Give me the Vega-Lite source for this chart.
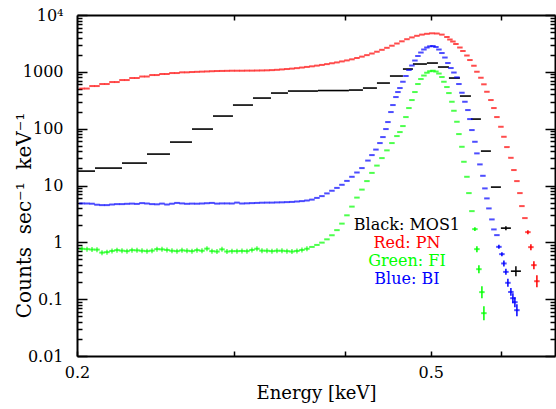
{
"$schema": "https://vega.github.io/schema/vega-lite/v6.json",
"autosize": {"type": "none"},
"padding": {"left": 77, "top": 15, "right": 1, "bottom": 53},
"width": 478,
"height": 341,
"background": "white",
"config": {"view": {"stroke": null}, "font": "DejaVu Serif"},
"datasets": {
"bins": [
{"s":"MOS1","elo":0.2,"ehi":0.20955,"c":17.92},
{"s":"MOS1","elo":0.20955,"ehi":0.22472,"c":20.25},
{"s":"MOS1","elo":0.22472,"ehi":0.23976,"c":24.8},
{"s":"MOS1","elo":0.23976,"ehi":0.25447,"c":35.71},
{"s":"MOS1","elo":0.25447,"ehi":0.2694,"c":58.07},
{"s":"MOS1","elo":0.2694,"ehi":0.28446,"c":98.4},
{"s":"MOS1","elo":0.28446,"ehi":0.29957,"c":166.7},
{"s":"MOS1","elo":0.29957,"ehi":0.31551,"c":260.3},
{"s":"MOS1","elo":0.31551,"ehi":0.33057,"c":345.6},
{"s":"MOS1","elo":0.33057,"ehi":0.34544,"c":423.4},
{"s":"MOS1","elo":0.34544,"ehi":0.37336,"c":459.1},
{"s":"MOS1","elo":0.37336,"ehi":0.40457,"c":468.5},
{"s":"MOS1","elo":0.40457,"ehi":0.41952,"c":478.1},
{"s":"MOS1","elo":0.41952,"ehi":0.43501,"c":518.5},
{"s":"MOS1","elo":0.43501,"ehi":0.4499,"c":634.9},
{"s":"MOS1","elo":0.4499,"ehi":0.4653,"c":843.8},
{"s":"MOS1","elo":0.4653,"ehi":0.47752,"c":1120},
{"s":"MOS1","elo":0.47752,"ehi":0.49515,"c":1372},
{"s":"MOS1","elo":0.49515,"ehi":0.50947,"c":1428},
{"s":"MOS1","elo":0.50947,"ehi":0.52419,"c":1215},
{"s":"MOS1","elo":0.52419,"ehi":0.53933,"c":777.6},
{"s":"MOS1","elo":0.53933,"ehi":0.55493,"c":374.9},
{"s":"MOS1","elo":0.55493,"ehi":0.56949,"c":147.5},
{"s":"MOS1","elo":0.56949,"ehi":0.58443,"c":40.32},
{"s":"MOS1","elo":0.58443,"ehi":0.59977,"c":9.37},
{"s":"MOS1","elo":0.59977,"ehi":0.6155,"c":1.778},
{"s":"MOS1","elo":0.6155,"ehi":0.63166,"c":0.311}
],
"pts": [
{"s":"PN","e":0.20261,"c":508},{"s":"PN","e":0.20525,"c":508},{"s":"PN","e":0.20793,"c":562},{"s":"PN","e":0.21063,"c":562},
{"s":"PN","e":0.21338,"c":610},{"s":"PN","e":0.21616,"c":610},{"s":"PN","e":0.21898,"c":661},{"s":"PN","e":0.22183,"c":661},
{"s":"PN","e":0.22472,"c":717},{"s":"PN","e":0.22765,"c":717},{"s":"PN","e":0.23062,"c":778},{"s":"PN","e":0.23363,"c":778},
{"s":"PN","e":0.23668,"c":827},{"s":"PN","e":0.23976,"c":827},{"s":"PN","e":0.24289,"c":878},{"s":"PN","e":0.24605,"c":878},
{"s":"PN","e":0.24926,"c":915},{"s":"PN","e":0.2525,"c":915},{"s":"PN","e":0.25579,"c":952},{"s":"PN","e":0.25913,"c":952},
{"s":"PN","e":0.26251,"c":980},{"s":"PN","e":0.26593,"c":980},{"s":"PN","e":0.2694,"c":992},{"s":"PN","e":0.27291,"c":1000},
{"s":"PN","e":0.27647,"c":1008},{"s":"PN","e":0.28007,"c":1016},{"s":"PN","e":0.28372,"c":1025},{"s":"PN","e":0.28742,"c":1033},
{"s":"PN","e":0.29117,"c":1037},{"s":"PN","e":0.29496,"c":1041},{"s":"PN","e":0.2988,"c":1046},{"s":"PN","e":0.3027,"c":1046},
{"s":"PN","e":0.30665,"c":1046},{"s":"PN","e":0.31064,"c":1050},{"s":"PN","e":0.31469,"c":1050},{"s":"PN","e":0.31879,"c":1054},
{"s":"PN","e":0.32295,"c":1058},{"s":"PN","e":0.32716,"c":1063},{"s":"PN","e":0.33142,"c":1072},{"s":"PN","e":0.33574,"c":1085},
{"s":"PN","e":0.34012,"c":1102},{"s":"PN","e":0.34455,"c":1120},{"s":"PN","e":0.34904,"c":1139},{"s":"PN","e":0.35359,"c":1162},
{"s":"PN","e":0.3582,"c":1190},{"s":"PN","e":0.36287,"c":1220},{"s":"PN","e":0.3676,"c":1250},{"s":"PN","e":0.37239,"c":1286},
{"s":"PN","e":0.37724,"c":1323},{"s":"PN","e":0.38216,"c":1367},{"s":"PN","e":0.38714,"c":1412},{"s":"PN","e":0.39219,"c":1464},
{"s":"PN","e":0.3973,"c":1525},{"s":"PN","e":0.40248,"c":1588},{"s":"PN","e":0.40773,"c":1660},{"s":"PN","e":0.41305,"c":1750},
{"s":"PN","e":0.41843,"c":1852},{"s":"PN","e":0.42388,"c":1968},{"s":"PN","e":0.42941,"c":2100},{"s":"PN","e":0.43501,"c":2259},
{"s":"PN","e":0.44068,"c":2440},{"s":"PN","e":0.44642,"c":2646},{"s":"PN","e":0.45224,"c":2881},{"s":"PN","e":0.45813,"c":3150},
{"s":"PN","e":0.4641,"c":3443},{"s":"PN","e":0.47016,"c":3750},{"s":"PN","e":0.47629,"c":4034},{"s":"PN","e":0.48249,"c":4303},
{"s":"PN","e":0.48878,"c":4517},{"s":"PN","e":0.49515,"c":4666},{"s":"PN","e":0.50161,"c":4762},{"s":"PN","e":0.50815,"c":4723},
{"s":"PN","e":0.51477,"c":4517},{"s":"PN","e":0.52148,"c":4100},{"s":"PN","e":0.52555,"c":3704},{"s":"PN","e":0.52965,"c":3415},
{"s":"PN","e":0.53378,"c":3087},{"s":"PN","e":0.53933,"c":2678},{"s":"PN","e":0.54355,"c":2324},{"s":"PN","e":0.54921,"c":1937},
{"s":"PN","e":0.55349,"c":1613},{"s":"PN","e":0.55926,"c":1280},{"s":"PN","e":0.56362,"c":1004},{"s":"PN","e":0.56949,"c":787},
{"s":"PN","e":0.57393,"c":603},{"s":"PN","e":0.57841,"c":446},{"s":"PN","e":0.58443,"c":319},{"s":"PN","e":0.58899,"c":230.5},
{"s":"PN","e":0.59359,"c":160},{"s":"PN","e":0.59977,"c":108},{"s":"PN","e":0.60445,"c":72},{"s":"PN","e":0.60916,"c":47.4},
{"s":"PN","e":0.6155,"c":30.7},{"s":"PN","e":0.6203,"c":18.7},{"s":"PN","e":0.62515,"c":11.95},{"s":"PN","e":0.63003,"c":7.35},
{"s":"PN","e":0.6333,"c":4.34},{"s":"PN","e":0.63824,"c":2.67},{"s":"PN","e":0.64321,"c":1.512},{"s":"PN","e":0.64823,"c":0.823},
{"s":"PN","e":0.65329,"c":0.397},{"s":"PN","e":0.65838,"c":0.207},
{"s":"BI","e":0.20261,"c":4.84},{"s":"BI","e":0.20525,"c":4.82},{"s":"BI","e":0.20793,"c":4.781},{"s":"BI","e":0.21063,"c":4.591},
{"s":"BI","e":0.21338,"c":4.517},{"s":"BI","e":0.21616,"c":4.517},{"s":"BI","e":0.21898,"c":4.628},{"s":"BI","e":0.22183,"c":4.704},
{"s":"BI","e":0.22472,"c":4.704},{"s":"BI","e":0.22765,"c":4.762},{"s":"BI","e":0.23062,"c":4.801},{"s":"BI","e":0.23363,"c":4.743},
{"s":"BI","e":0.23668,"c":4.898},{"s":"BI","e":0.23976,"c":4.82},{"s":"BI","e":0.24289,"c":4.704},{"s":"BI","e":0.24605,"c":4.666},
{"s":"BI","e":0.24926,"c":4.801},{"s":"BI","e":0.2525,"c":4.628},{"s":"BI","e":0.25579,"c":4.781},{"s":"BI","e":0.25913,"c":4.938},
{"s":"BI","e":0.26251,"c":4.84},{"s":"BI","e":0.26593,"c":4.762},{"s":"BI","e":0.2694,"c":4.801},{"s":"BI","e":0.27291,"c":4.781},
{"s":"BI","e":0.27647,"c":4.82},{"s":"BI","e":0.28007,"c":4.878},{"s":"BI","e":0.28372,"c":4.938},{"s":"BI","e":0.28742,"c":4.801},
{"s":"BI","e":0.29117,"c":4.84},{"s":"BI","e":0.29496,"c":4.84},{"s":"BI","e":0.2988,"c":4.82},{"s":"BI","e":0.3027,"c":4.998},
{"s":"BI","e":0.30665,"c":4.82},{"s":"BI","e":0.31064,"c":4.859},{"s":"BI","e":0.31469,"c":4.898},{"s":"BI","e":0.31879,"c":4.938},
{"s":"BI","e":0.32295,"c":4.978},{"s":"BI","e":0.32716,"c":4.998},{"s":"BI","e":0.33142,"c":4.998},{"s":"BI","e":0.33574,"c":5.039},
{"s":"BI","e":0.34012,"c":5.06},{"s":"BI","e":0.34455,"c":5.101},{"s":"BI","e":0.34904,"c":5.142},{"s":"BI","e":0.35359,"c":5.227},
{"s":"BI","e":0.3582,"c":5.312},{"s":"BI","e":0.36287,"c":5.443},{"s":"BI","e":0.3676,"c":5.645},{"s":"BI","e":0.37239,"c":6.048},
{"s":"BI","e":0.37724,"c":6.506},{"s":"BI","e":0.38216,"c":7.258},{"s":"BI","e":0.38714,"c":8.097},{"s":"BI","e":0.39219,"c":9.072},
{"s":"BI","e":0.3973,"c":10.29},{"s":"BI","e":0.40248,"c":12.05},{"s":"BI","e":0.40773,"c":14.23},{"s":"BI","e":0.41305,"c":16.93},
{"s":"BI","e":0.41843,"c":20.25},{"s":"BI","e":0.42498,"c":27.44},{"s":"BI","e":0.42941,"c":34.29},{"s":"BI","e":0.43388,"c":42.85},
{"s":"BI","e":0.4384,"c":55.79},{"s":"BI","e":0.44182,"c":71.13},{"s":"BI","e":0.44527,"c":98.4},{"s":"BI","e":0.44758,"c":130.7},
{"s":"BI","e":0.45107,"c":196},{"s":"BI","e":0.45341,"c":260.3},{"s":"BI","e":0.45695,"c":359.9},{"s":"BI","e":0.45932,"c":440.9},
{"s":"BI","e":0.4617,"c":518.5},{"s":"BI","e":0.4653,"c":669.2},{"s":"BI","e":0.46893,"c":843.8},{"s":"BI","e":0.4726,"c":1076},
{"s":"BI","e":0.47629,"c":1291},{"s":"BI","e":0.48,"c":1581},{"s":"BI","e":0.48374,"c":1897},{"s":"BI","e":0.48751,"c":2186},
{"s":"BI","e":0.49132,"c":2470},{"s":"BI","e":0.49515,"c":2678},{"s":"BI","e":0.49901,"c":2812},{"s":"BI","e":0.50291,"c":2846},
{"s":"BI","e":0.50683,"c":2733},{"s":"BI","e":0.51079,"c":2470},{"s":"BI","e":0.51477,"c":2142},{"s":"BI","e":0.51879,"c":1785},
{"s":"BI","e":0.52283,"c":1428},{"s":"BI","e":0.52691,"c":1166},{"s":"BI","e":0.53102,"c":972},{"s":"BI","e":0.53516,"c":800},
{"s":"BI","e":0.53794,"c":610},{"s":"BI","e":0.54214,"c":428.6},{"s":"BI","e":0.54637,"c":297.5},{"s":"BI","e":0.55063,"c":212.5},
{"s":"BI","e":0.55349,"c":147.5},{"s":"BI","e":0.55637,"c":94.5},{"s":"BI","e":0.56071,"c":58.8},{"s":"BI","e":0.56362,"c":36.74},
{"s":"BI","e":0.56802,"c":23.51},{"s":"BI","e":0.57245,"c":14.82},{"s":"BI","e":0.57542,"c":8.89},{"s":"BI","e":0.57841,"c":5.927},
{"s":"BI","e":0.58141,"c":3.952},{"s":"BI","e":0.58595,"c":2.53},{"s":"BI","e":0.58899,"c":1.687},{"s":"BI","e":0.59359,"c":1.339},
{"s":"BI","e":0.59667,"c":0.833},{"s":"BI","e":0.60133,"c":0.62},{"s":"BI","e":0.60445,"c":0.425},{"s":"BI","e":0.60759,"c":0.302},
{"s":"BI","e":0.61074,"c":0.194},{"s":"BI","e":0.6155,"c":0.134},{"s":"BI","e":0.6187,"c":0.104},{"s":"BI","e":0.62191,"c":0.0885},
{"s":"BI","e":0.62515,"c":0.064},
{"s":"FI","e":0.20261,"c":0.768},{"s":"FI","e":0.20525,"c":0.759},{"s":"FI","e":0.20793,"c":0.747},{"s":"FI","e":0.21063,"c":0.744},
{"s":"FI","e":0.21338,"c":0.659},{"s":"FI","e":0.21616,"c":0.672},{"s":"FI","e":0.21898,"c":0.706},{"s":"FI","e":0.22183,"c":0.729},
{"s":"FI","e":0.22472,"c":0.714},{"s":"FI","e":0.22765,"c":0.7},{"s":"FI","e":0.23062,"c":0.729},{"s":"FI","e":0.23363,"c":0.723},
{"s":"FI","e":0.23668,"c":0.711},{"s":"FI","e":0.23976,"c":0.7},{"s":"FI","e":0.24289,"c":0.714},{"s":"FI","e":0.24605,"c":0.759},
{"s":"FI","e":0.24926,"c":0.753},{"s":"FI","e":0.2525,"c":0.735},{"s":"FI","e":0.25579,"c":0.711},{"s":"FI","e":0.25913,"c":0.7},
{"s":"FI","e":0.26251,"c":0.723},{"s":"FI","e":0.26593,"c":0.711},{"s":"FI","e":0.2694,"c":0.7},{"s":"FI","e":0.27291,"c":0.729},
{"s":"FI","e":0.27647,"c":0.711},{"s":"FI","e":0.28007,"c":0.774},{"s":"FI","e":0.28372,"c":0.7},{"s":"FI","e":0.28742,"c":0.689},
{"s":"FI","e":0.29117,"c":0.753},{"s":"FI","e":0.29496,"c":0.689},{"s":"FI","e":0.2988,"c":0.7},{"s":"FI","e":0.3027,"c":0.7},
{"s":"FI","e":0.30665,"c":0.706},{"s":"FI","e":0.31064,"c":0.7},{"s":"FI","e":0.31469,"c":0.735},{"s":"FI","e":0.31879,"c":0.771},
{"s":"FI","e":0.32295,"c":0.714},{"s":"FI","e":0.32716,"c":0.711},{"s":"FI","e":0.33142,"c":0.7},{"s":"FI","e":0.33574,"c":0.711},
{"s":"FI","e":0.34012,"c":0.711},{"s":"FI","e":0.34455,"c":0.7},{"s":"FI","e":0.34904,"c":0.689},{"s":"FI","e":0.35359,"c":0.706},
{"s":"FI","e":0.3582,"c":0.735},{"s":"FI","e":0.36287,"c":0.771},{"s":"FI","e":0.3676,"c":0.83},{"s":"FI","e":0.37239,"c":0.9},
{"s":"FI","e":0.37724,"c":0.988},{"s":"FI","e":0.38216,"c":1.129},{"s":"FI","e":0.38714,"c":1.328},{"s":"FI","e":0.39219,"c":1.639},
{"s":"FI","e":0.3973,"c":2.134},{"s":"FI","e":0.40248,"c":2.988},{"s":"FI","e":0.40773,"c":4.251},{"s":"FI","e":0.41305,"c":6.123},
{"s":"FI","e":0.41843,"c":8.468},{"s":"FI","e":0.42388,"c":11.95},{"s":"FI","e":0.42941,"c":16.66},{"s":"FI","e":0.43501,"c":22.4},
{"s":"FI","e":0.44068,"c":30.36},{"s":"FI","e":0.44642,"c":41.49},{"s":"FI","e":0.45224,"c":55.79},{"s":"FI","e":0.45813,"c":74.07},
{"s":"FI","e":0.4617,"c":87.13},{"s":"FI","e":0.4653,"c":111.1},{"s":"FI","e":0.46893,"c":160},{"s":"FI","e":0.4726,"c":230.5},
{"s":"FI","e":0.47629,"c":318.8},{"s":"FI","e":0.48,"c":440.9},{"s":"FI","e":0.48374,"c":609.9},{"s":"FI","e":0.48751,"c":746.9},
{"s":"FI","e":0.49132,"c":860.5},{"s":"FI","e":0.49515,"c":964.1},{"s":"FI","e":0.49901,"c":1025},{"s":"FI","e":0.50291,"c":1046},
{"s":"FI","e":0.50683,"c":1012},{"s":"FI","e":0.51079,"c":933},{"s":"FI","e":0.51477,"c":810},{"s":"FI","e":0.51744,"c":669},
{"s":"FI","e":0.52148,"c":540},{"s":"FI","e":0.52419,"c":423},{"s":"FI","e":0.52828,"c":297.5},{"s":"FI","e":0.53102,"c":206.6},
{"s":"FI","e":0.53516,"c":132.3},{"s":"FI","e":0.53794,"c":80.3},{"s":"FI","e":0.54214,"c":48},{"s":"FI","e":0.54496,"c":26.15},
{"s":"FI","e":0.54921,"c":14.23},{"s":"FI","e":0.55206,"c":7.35},{"s":"FI","e":0.55637,"c":3.54},{"s":"FI","e":0.56071,"c":1.708},
{"s":"FI","e":0.56362,"c":0.759},{"s":"FI","e":0.56655,"c":0.337},{"s":"FI","e":0.57097,"c":0.133},{"s":"FI","e":0.57393,"c":0.0567}
],
"err": [
{"s":"MOS1","e":0.60759,"lo":1.639,"hi":1.928},
{"s":"MOS1","e":0.62353,"lo":0.254,"hi":0.381},
{"s":"PN","e":0.64321,"lo":1.394,"hi":1.639},
{"s":"PN","e":0.64823,"lo":0.729,"hi":0.929},
{"s":"PN","e":0.65329,"lo":0.3374,"hi":0.4667},
{"s":"PN","e":0.65838,"lo":0.1626,"hi":0.2645},
{"s":"BI","e":0.59667,"lo":0.7681,"hi":0.9034},
{"s":"BI","e":0.60133,"lo":0.5714,"hi":0.672},
{"s":"BI","e":0.60445,"lo":0.3763,"hi":0.4801},
{"s":"BI","e":0.60759,"lo":0.2677,"hi":0.3415},
{"s":"BI","e":0.61074,"lo":0.1646,"hi":0.2277},
{"s":"BI","e":0.6155,"lo":0.1143,"hi":0.158},
{"s":"BI","e":0.6187,"lo":0.085,"hi":0.1275},
{"s":"BI","e":0.62191,"lo":0.0723,"hi":0.1084},
{"s":"BI","e":0.62515,"lo":0.0502,"hi":0.0816},
{"s":"FI","e":0.56071,"lo":1.575,"hi":1.851},
{"s":"FI","e":0.56362,"lo":0.672,"hi":0.857},
{"s":"FI","e":0.56655,"lo":0.2869,"hi":0.397},
{"s":"FI","e":0.57097,"lo":0.1041,"hi":0.1693},
{"s":"FI","e":0.57393,"lo":0.0427,"hi":0.0752}
],
"labs": [
{"s":"MOS1","t":"Black: MOS1","e":0.4702,"c":2.008},
{"s":"PN","t":"Red: PN","e":0.4702,"c":0.968},
{"s":"FI","t":"Green: FI","e":0.4702,"c":0.4667},
{"s":"BI","t":"Blue: BI","e":0.4702,"c":0.225}
]
},
"layer": [
{
"data": {"name": "bins"},
"mark": {"type": "rule", "strokeWidth": 1.6},
"encoding": {
"x": {"field": "elo", "type": "quantitative",
"scale": {"type": "log", "domain": [0.2, 0.69], "nice": false},
"axis": {"orient": "bottom", "title": "Energy [keV]", "values": [0.2, 0.3, 0.4, 0.5, 0.6],
"labelExpr": "datum.value == 0.2 || datum.value == 0.5 ? format(datum.value, '.1f') : ''",
"tickSize": -5, "tickWidth": 1.5, "tickColor": "#000000", "domainColor": "#000000", "domainWidth": 2,
"labelFont": "DejaVu Serif", "labelFontSize": 16, "labelColor": "#000000", "labelPadding": 13,
"labelFlush": false, "labelOverlap": false, "labelBaseline": "top",
"titleFont": "DejaVu Serif", "titleFontSize": 18, "titleFontWeight": "normal", "titleColor": "#000000",
"titlePadding": 4, "grid": false}},
"x2": {"field": "ehi"},
"y": {"field": "c", "type": "quantitative",
"scale": {"type": "log", "domain": [0.01, 10000], "nice": false},
"axis": {"orient": "left", "title": "Counts\u00a0 sec⁻¹\u00a0 keV⁻¹",
"values": [0.01,0.02,0.03,0.04,0.05,0.06,0.07,0.08,0.09,0.1,0.2,0.3,0.4,0.5,0.6,0.7,0.8,0.9,1,2,3,4,5,6,7,8,9,10,20,30,40,50,60,70,80,90,100,200,300,400,500,600,700,800,900,1000,2000,3000,4000,5000,6000,7000,8000,9000,10000],
"labelExpr": "abs(log(datum.value)/LN10 - round(log(datum.value)/LN10)) < 0.001 ? (datum.value == 10000 ? '10⁴' : format(datum.value, '~g')) : ''",
"tickSize": {"condition": {"test": "abs(log(datum.value)/LN10 - round(log(datum.value)/LN10)) < 0.001", "value": -10}, "value": -5},
"tickWidth": 1.5, "tickColor": "#000000", "domainColor": "#000000", "domainWidth": 2,
"labelFont": "DejaVu Serif", "labelFontSize": 16, "labelColor": "#000000", "labelPadding": 24,
"labelOverlap": false, "labelFlush": false,
"titleFont": "DejaVu Serif", "titleFontSize": 20, "titleFontWeight": "normal", "titleColor": "#000000",
"titleAngle": 270, "titleAlign": "center", "titleBaseline": "middle", "titleX": -53, "titleY": 200, "grid": false}},
"color": {"field": "s", "type": "nominal",
"scale": {"domain": ["MOS1", "PN", "FI", "BI"], "range": ["#000000", "#ff0000", "#00ff00", "#0000ff"]},
"legend": null}
}
},
{
"data": {"name": "pts"},
"mark": {"type": "tick", "orient": "horizontal", "size": 5.5, "thickness": 2},
"encoding": {
"x": {"field": "e", "type": "quantitative", "axis": null},
"y": {"field": "c", "type": "quantitative", "axis": null},
"color": {"field": "s", "type": "nominal", "legend": null}
}
},
{
"data": {"name": "pts"},
"transform": [{"filter": "datum.s == 'FI' && datum.e < 0.365"}],
"mark": {"type": "tick", "orient": "vertical", "size": 5, "thickness": 1.4},
"encoding": {
"x": {"field": "e", "type": "quantitative", "axis": null},
"y": {"field": "c", "type": "quantitative", "axis": null},
"color": {"field": "s", "type": "nominal", "legend": null}
}
},
{
"data": {"name": "err"},
"mark": {"type": "rule", "strokeWidth": 1.5},
"encoding": {
"x": {"field": "e", "type": "quantitative", "axis": null},
"y": {"field": "lo", "type": "quantitative", "axis": null},
"y2": {"field": "hi"},
"color": {"field": "s", "type": "nominal", "legend": null}
}
},
{
"data": {"name": "labs"},
"mark": {"type": "text", "font": "DejaVu Serif", "fontSize": 16, "align": "center", "baseline": "middle"},
"encoding": {
"x": {"field": "e", "type": "quantitative", "axis": null},
"y": {"field": "c", "type": "quantitative", "axis": null},
"text": {"field": "t"},
"color": {"field": "s", "type": "nominal", "legend": null}
}
},
{
"data": {"name": "bins"},
"mark": {"type": "point", "opacity": 0},
"encoding": {
"x": {"field": "elo", "type": "quantitative",
"scale": {"type": "log", "domain": [0.2, 0.69], "nice": false},
"axis": {"orient": "top", "title": null, "values": [0.3, 0.4, 0.5, 0.6], "labels": false,
"tickSize": -5, "tickWidth": 1.5, "tickColor": "#000000", "domainColor": "#000000", "domainWidth": 2, "grid": false}},
"y": {"field": "c", "type": "quantitative",
"scale": {"type": "log", "domain": [0.01, 10000], "nice": false},
"axis": {"orient": "right", "title": null, "labels": false,
"values": [0.01,0.02,0.03,0.04,0.05,0.06,0.07,0.08,0.09,0.1,0.2,0.3,0.4,0.5,0.6,0.7,0.8,0.9,1,2,3,4,5,6,7,8,9,10,20,30,40,50,60,70,80,90,100,200,300,400,500,600,700,800,900,1000,2000,3000,4000,5000,6000,7000,8000,9000,10000],
"tickSize": {"condition": {"test": "abs(log(datum.value)/LN10 - round(log(datum.value)/LN10)) < 0.001", "value": -10}, "value": -5},
"tickWidth": 1.5, "tickColor": "#000000", "domainColor": "#000000", "domainWidth": 2, "grid": false}}
}
}
],
"resolve": {"axis": {"x": "independent", "y": "independent"}}
}
